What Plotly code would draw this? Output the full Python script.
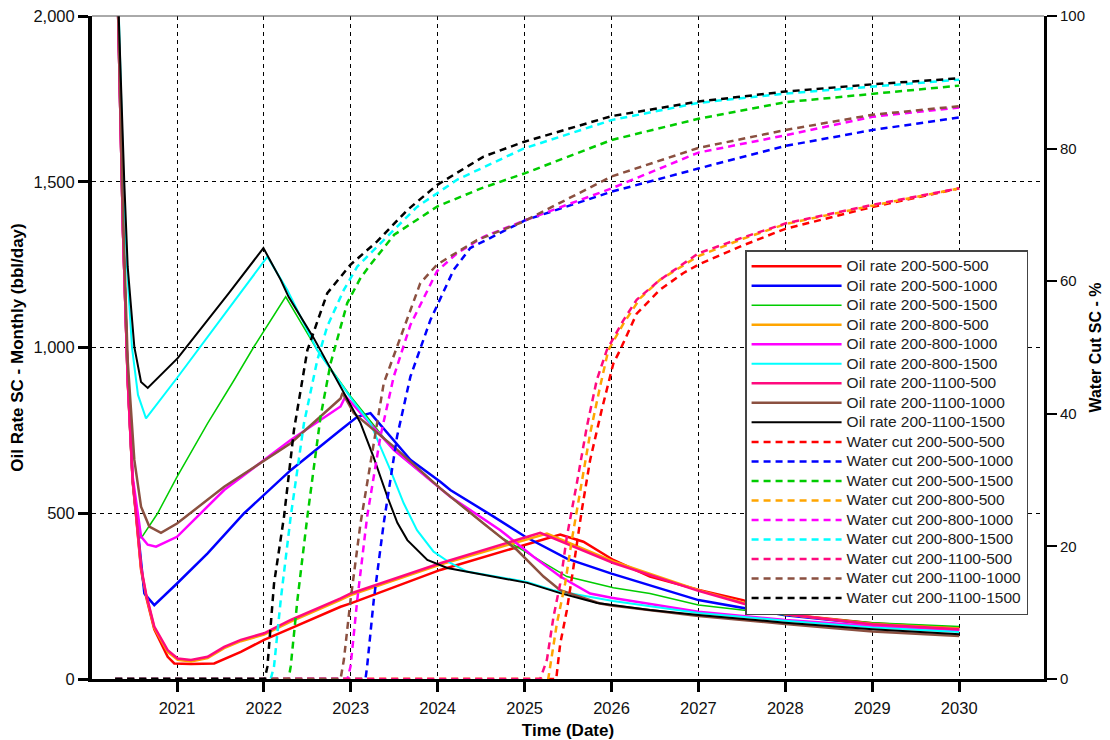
import plotly.graph_objects as go
from datetime import datetime

# ---------------- tick labels ----------------
X_TICK_YEARS = [2021, 2022, 2023, 2024, 2025, 2026, 2027, 2028, 2029, 2030]
Y_OIL_TICKS = [0, 500, 1000, 1500, 2000]
Y_OIL_TICKTEXT = ["0", "500", "1,000", "1,500", "2,000"]
Y_WC_TICKS = [0, 20, 40, 60, 80, 100]

CASES = ["200-500-500", "200-500-1000", "200-500-1500",
         "200-800-500", "200-800-1000", "200-800-1500",
         "200-1100-500", "200-1100-1000", "200-1100-1500"]
COLORS = ["#FF0000", "#0000FF", "#00CC00", "#FFA500", "#FF00FF",
          "#00FFFF", "#FF0A7E", "#8B5040", "#000000"]
OIL_WIDTHS = [2.5, 2.5, 1.5, 2.5, 2.5, 2.0, 2.5, 2.5, 2.0]

# ---------------- oil rate (time in decimal years, bbl/day) ----------------
OIL_T_500_500 = [2020.290, 2020.331, 2020.380, 2020.434, 2020.491, 2020.529, 2020.587, 2020.644, 2020.739,
                 2020.893, 2020.969, 2021.161, 2021.428, 2021.735, 2022.002, 2022.309, 2022.883, 2023.000,
                 2024.031, 2025.409, 2025.676, 2026.021, 2026.442, 2027.017, 2027.513, 2028.000, 2029.000, 2030.000]
OIL_V_500_500 = [2400, 1950, 1350, 900, 595, 495, 330, 250, 150,
                 67, 47, 45, 47, 82, 118, 153, 218, 228,
                 329, 436, 414, 359, 309, 268, 238, 195, 168, 153]

OIL_T_500_1000 = [2020.290, 2020.331, 2020.380, 2020.434, 2020.491, 2020.625, 2020.739, 2021.000, 2021.352,
                  2021.773, 2022.309, 2022.883, 2023.075, 2023.227, 2023.687, 2024.031, 2024.146, 2024.643,
                  2025.007, 2025.486, 2026.000, 2027.000, 2028.000, 2029.000, 2030.000]
OIL_V_500_1000 = [2400, 1950, 1350, 905, 600, 258, 223, 288, 379,
                  500, 630, 751, 791, 802, 661, 595, 570, 490,
                  429, 363, 318, 238, 192, 165, 148]

OIL_T_500_1500 = [2020.290, 2020.331, 2020.380, 2020.434, 2020.491, 2020.587, 2020.778, 2021.000, 2021.352,
                  2021.658, 2021.887, 2022.251, 2022.615, 2023.000, 2023.495, 2024.031, 2024.146, 2024.720,
                  2025.102, 2025.486, 2026.021, 2026.442, 2027.000, 2027.513, 2028.000, 2029.000, 2030.000]
OIL_V_500_1500 = [2400, 1950, 1350, 905, 600, 424, 500, 610, 771,
                  902, 1003, 1153, 992, 852, 691, 575, 550, 429,
                  369, 309, 275, 258, 223, 208, 193, 170, 158]

OIL_T_800_500 = [2020.290, 2020.331, 2020.380, 2020.434, 2020.491, 2020.529, 2020.587, 2020.644, 2020.739,
                 2020.893, 2021.008, 2021.161, 2021.352, 2021.543, 2021.735, 2022.002, 2022.309, 2022.883,
                 2023.000, 2024.031, 2025.256, 2026.021, 2027.000, 2028.000, 2029.000, 2030.000]
OIL_V_800_500 = [2400, 1950, 1350, 902, 598, 498, 335, 255, 154,
                 82, 58, 53, 63, 93, 114, 134, 173, 239,
                 253, 345, 439, 355, 268, 195, 166, 152]

OIL_T_800_1000 = [2020.290, 2020.331, 2020.380, 2020.434, 2020.491, 2020.587, 2020.664, 2020.759, 2021.000,
                  2021.543, 2022.309, 2022.883, 2022.940, 2023.495, 2024.031, 2024.146, 2024.720, 2025.102,
                  2025.409, 2025.753, 2026.000, 2027.000, 2028.000, 2029.000, 2030.000]
OIL_V_800_1000 = [2400, 1950, 1350, 910, 610, 430, 405, 399, 429,
                  570, 721, 822, 853, 691, 575, 550, 449, 369,
                  309, 258, 245, 203, 178, 160, 148]

OIL_T_800_1500 = [2020.290, 2020.331, 2020.386, 2020.426, 2020.483, 2020.552, 2020.644, 2021.000, 2022.041,
                  2022.271, 2022.615, 2023.017, 2023.227, 2023.457, 2023.610, 2023.763, 2023.954, 2024.146,
                  2024.338, 2025.026, 2025.328, 2026.017, 2027.000, 2028.000, 2029.000, 2030.000]
OIL_V_800_1500 = [2400, 2000, 1496, 1243, 1000, 857, 786, 908, 1274,
                  1173, 992, 842, 771, 630, 530, 449, 384, 350,
                  324, 293, 268, 235, 199, 176, 155, 142]

OIL_T_1100_500 = [2020.290, 2020.331, 2020.380, 2020.434, 2020.491, 2020.529, 2020.587, 2020.644, 2020.739,
                  2020.893, 2021.008, 2021.161, 2021.352, 2021.543, 2021.735, 2022.002, 2022.309, 2022.883,
                  2023.000, 2024.031, 2025.179, 2026.021, 2027.000, 2027.513, 2028.000, 2029.000, 2030.000]
OIL_V_1100_500 = [2400, 1950, 1350, 902, 600, 500, 339, 258, 158,
                  87, 62, 57, 67, 97, 118, 138, 178, 243,
                  258, 349, 441, 350, 266, 228, 195, 165, 150]

OIL_T_1100_1000 = [2020.290, 2020.331, 2020.380, 2020.434, 2020.510, 2020.587, 2020.682, 2020.816, 2021.000,
                   2021.543, 2022.309, 2022.883, 2022.906, 2023.036, 2023.495, 2024.031, 2024.146, 2024.528,
                   2024.912, 2025.217, 2025.409, 2025.868, 2026.000, 2027.000, 2028.000, 2029.000, 2030.000]
OIL_V_1100_1000 = [2400, 1980, 1400, 960, 661, 520, 460, 441, 469,
                   580, 711, 846, 863, 802, 701, 575, 550, 469,
                   389, 309, 268, 228, 222, 190, 166, 143, 130]

OIL_T_1100_1500 = [2020.290, 2020.331, 2020.395, 2020.434, 2020.510, 2020.587, 2020.664, 2021.008, 2021.597,
                   2021.995, 2022.194, 2022.286, 2022.573, 2022.963, 2023.113, 2023.262, 2023.423, 2023.537,
                   2023.652, 2023.882, 2024.111, 2025.030, 2025.409, 2025.834, 2026.000, 2026.442, 2027.000,
                   2028.000, 2029.000, 2030.000]
OIL_V_1100_1500 = [2400, 2000, 1496, 1243, 1002, 896, 878, 968, 1164,
                   1300, 1204, 1152, 1029, 842, 772, 670, 549, 471,
                   419, 359, 335, 290, 259, 229, 223, 208, 193,
                   170, 150, 135]

# ---------------- water cut (time in decimal years, %) ----------------
WC_T_500_500 = [2020.290, 2025.363, 2025.409, 2025.486, 2025.562, 2025.658, 2025.753, 2025.887, 2026.021,
                2026.098, 2026.289, 2026.557, 2026.824, 2027.000, 2027.513, 2028.000, 2029.000, 2030.000]
WC_V_500_500 = [0, 0, 5.3, 10.4, 16.9, 25.5, 33.0, 40.6, 47.6,
                49.6, 55.1, 58.7, 61.2, 62.5, 65.4, 67.9, 71.2, 74.0]

WC_T_500_1000 = [2020.290, 2023.170, 2023.189, 2023.265, 2023.380, 2023.534, 2023.687, 2023.916, 2024.184,
                 2024.375, 2025.007, 2026.000, 2027.000, 2028.000, 2029.000, 2030.000]
WC_V_500_1000 = [0, 0, 1.9, 11.9, 23.5, 36.6, 45.6, 54.1, 61.7,
                 65.0, 69.2, 73.5, 77.0, 80.4, 82.8, 84.7]

WC_T_500_1500 = [2020.290, 2022.285, 2022.309, 2022.386, 2022.501, 2022.653, 2022.768, 2022.960, 2023.113,
                 2023.227, 2023.500, 2024.000, 2024.500, 2025.007, 2026.000, 2027.000, 2028.000, 2029.000, 2030.000]
WC_V_500_1500 = [0, 0, 1.9, 11.9, 24.5, 39.6, 47.6, 56.7, 60.5,
                 62.5, 67.0, 71.3, 74.0, 76.3, 81.3, 84.5, 87.0, 88.3, 89.5]

WC_T_800_500 = [2020.290, 2025.271, 2025.371, 2025.466, 2025.543, 2025.638, 2025.753, 2025.868, 2025.963,
                2026.132, 2026.327, 2026.557, 2027.000, 2027.513, 2028.000, 2029.000, 2030.000]
WC_V_800_500 = [0, 0, 8.4, 14.4, 21.0, 28.5, 37.0, 44.1, 49.6,
                53.5, 57.4, 60.2, 63.8, 66.4, 68.6, 71.4, 74.0]

WC_T_800_1000 = [2020.290, 2022.963, 2022.998, 2023.075, 2023.189, 2023.342, 2023.495, 2023.687, 2023.993,
                 2024.223, 2024.528, 2025.007, 2026.000, 2027.000, 2028.000, 2029.000, 2030.000]
WC_V_800_1000 = [0, 0, 1.9, 11.9, 24.5, 36.6, 45.6, 53.4, 61.5,
                 64.2, 66.7, 69.2, 74.0, 79.4, 82.0, 84.8, 86.2]

WC_T_800_1500 = [2020.290, 2022.079, 2022.117, 2022.194, 2022.309, 2022.462, 2022.615, 2022.730, 2022.921,
                 2023.075, 2023.380, 2023.763, 2024.223, 2024.987, 2026.000, 2027.000, 2028.000, 2029.000, 2030.000]
WC_V_800_1500 = [0, 0, 1.9, 11.9, 24.5, 38.6, 48.1, 53.2, 58.7,
                 62.2, 66.2, 71.2, 75.3, 80.0, 84.3, 86.9, 88.3, 89.4, 90.4]

WC_T_1100_500 = [2020.290, 2025.179, 2025.256, 2025.332, 2025.409, 2025.486, 2025.600, 2025.715, 2025.830,
                 2025.945, 2026.136, 2026.289, 2026.557, 2027.000, 2027.513, 2028.000, 2029.000, 2030.000]
WC_V_1100_500 = [0, 0, 2.9, 9.4, 14.4, 21.5, 29.5, 38.0, 45.1,
                 49.6, 54.1, 57.2, 60.2, 64.2, 66.6, 68.7, 71.5, 74.0]

WC_T_1100_1000 = [2020.290, 2022.883, 2022.921, 2022.998, 2023.113, 2023.227, 2023.380, 2023.572, 2023.801,
                  2023.993, 2024.452, 2024.987, 2026.000, 2027.000, 2028.000, 2029.000, 2030.000]
WC_V_1100_1000 = [0, 0, 2.9, 11.9, 23.5, 32.5, 44.6, 51.5, 59.7,
                  62.5, 66.2, 69.0, 75.8, 80.1, 82.8, 85.1, 86.4]

WC_T_1100_1500 = [2020.290, 2022.010, 2022.041, 2022.079, 2022.117, 2022.232, 2022.347, 2022.501, 2022.730,
                  2022.998, 2023.304, 2023.649, 2023.993, 2024.528, 2024.987, 2026.000, 2027.000, 2028.000,
                  2029.000, 2030.000]
WC_V_1100_1500 = [0, 0, 1.9, 8.4, 14.4, 24.5, 37.6, 49.6, 58.2,
                  62.5, 66.0, 70.7, 74.5, 78.8, 81.0, 84.9, 87.1, 88.6,
                  89.7, 90.6]

OIL_T = [OIL_T_500_500, OIL_T_500_1000, OIL_T_500_1500, OIL_T_800_500, OIL_T_800_1000,
         OIL_T_800_1500, OIL_T_1100_500, OIL_T_1100_1000, OIL_T_1100_1500]
OIL_V = [OIL_V_500_500, OIL_V_500_1000, OIL_V_500_1500, OIL_V_800_500, OIL_V_800_1000,
         OIL_V_800_1500, OIL_V_1100_500, OIL_V_1100_1000, OIL_V_1100_1500]
WC_T = [WC_T_500_500, WC_T_500_1000, WC_T_500_1500, WC_T_800_500, WC_T_800_1000,
        WC_T_800_1500, WC_T_1100_500, WC_T_1100_1000, WC_T_1100_1500]
WC_V = [WC_V_500_500, WC_V_500_1000, WC_V_500_1500, WC_V_800_500, WC_V_800_1000,
        WC_V_800_1500, WC_V_1100_500, WC_V_1100_1000, WC_V_1100_1500]


def to_date(t):
    y = int(t)
    a, b = datetime(y, 1, 1), datetime(y + 1, 1, 1)
    return (a + (b - a) * (t - y)).strftime("%Y-%m-%d %H:%M")


FONT = "Liberation Sans, Arial, sans-serif"


def legend_name(s):
    return "<span style='font-size:15.5px'>" + s + "</span>"


fig = go.Figure()
for case, col, w, ts, vs in zip(CASES, COLORS, OIL_WIDTHS, OIL_T, OIL_V):
    fig.add_trace(go.Scatter(x=[to_date(t) for t in ts], y=vs, mode="lines",
                             name=legend_name("Oil rate " + case),
                             line=dict(color=col, width=w)))
for case, col, ts, vs in zip(CASES, COLORS, WC_T, WC_V):
    fig.add_trace(go.Scatter(x=[to_date(t) for t in ts], y=vs, mode="lines", yaxis="y2",
                             name=legend_name("Water cut " + case),
                             line=dict(color=col, width=2.5, dash="7px,5px")))

fig.update_layout(
    width=1110, height=740,
    margin=dict(l=92, r=66, t=16, b=61, pad=0, autoexpand=False),
    paper_bgcolor="white", plot_bgcolor="white",
    font=dict(family=FONT, color="black"),
    showlegend=True,
    legend=dict(x=0.686, y=0.647, xanchor="left", yanchor="top",
                bgcolor="white", bordercolor="#444444", borderwidth=1.5,
                font=dict(family=FONT, size=12.7, color="#222222"),
                itemwidth=90, traceorder="normal"),
    xaxis=dict(type="date", automargin=False,
               range=[to_date(2020.024), to_date(2030.976)],
               tickvals=[to_date(y) for y in X_TICK_YEARS],
               ticktext=[str(y) for y in X_TICK_YEARS],
               showgrid=True, gridcolor="black", gridwidth=1, griddash="4px,4px",
               showline=True, linecolor="black", linewidth=3,
               ticks="outside", ticklen=10, tickwidth=3, tickcolor="black",
               ticklabelstandoff=2,
               tickfont=dict(size=16.5, family=FONT, color="#111111"),
               zeroline=False,
               title=dict(text="<b>Time (Date)</b>", font=dict(size=17, family=FONT), standoff=9)),
    yaxis=dict(range=[0, 2000], tickvals=Y_OIL_TICKS, ticktext=Y_OIL_TICKTEXT, automargin=False,
               showgrid=True, gridcolor="black", gridwidth=1, griddash="4px,4px",
               showline=True, linecolor="black", linewidth=4,
               ticks="outside", ticklen=10, tickwidth=3, tickcolor="black",
               tickfont=dict(size=16.5, family=FONT, color="#111111"),
               zeroline=False,
               title=dict(text="<b>Oil Rate SC - Monthly (bbl/day)</b>",
                          font=dict(size=17, family=FONT), standoff=6)),
    yaxis2=dict(overlaying="y", side="right", range=[0, 100], tickvals=Y_WC_TICKS, automargin=False,
                showgrid=False, zeroline=False,
                showline=True, linecolor="black", linewidth=3,
                ticks="outside", ticklen=10, tickwidth=2, tickcolor="black",
                tickfont=dict(size=15, family=FONT, color="#111111"),
                title=dict(text="<b>Water Cut SC - %</b>", font=dict(size=16, family=FONT), standoff=6)),
    shapes=[dict(type="line", xref="paper", yref="paper", x0=0, x1=1, y0=1, y1=1,
                 line=dict(color="#555555", width=1), layer="above")],
)

fig.write_html("out.html")
